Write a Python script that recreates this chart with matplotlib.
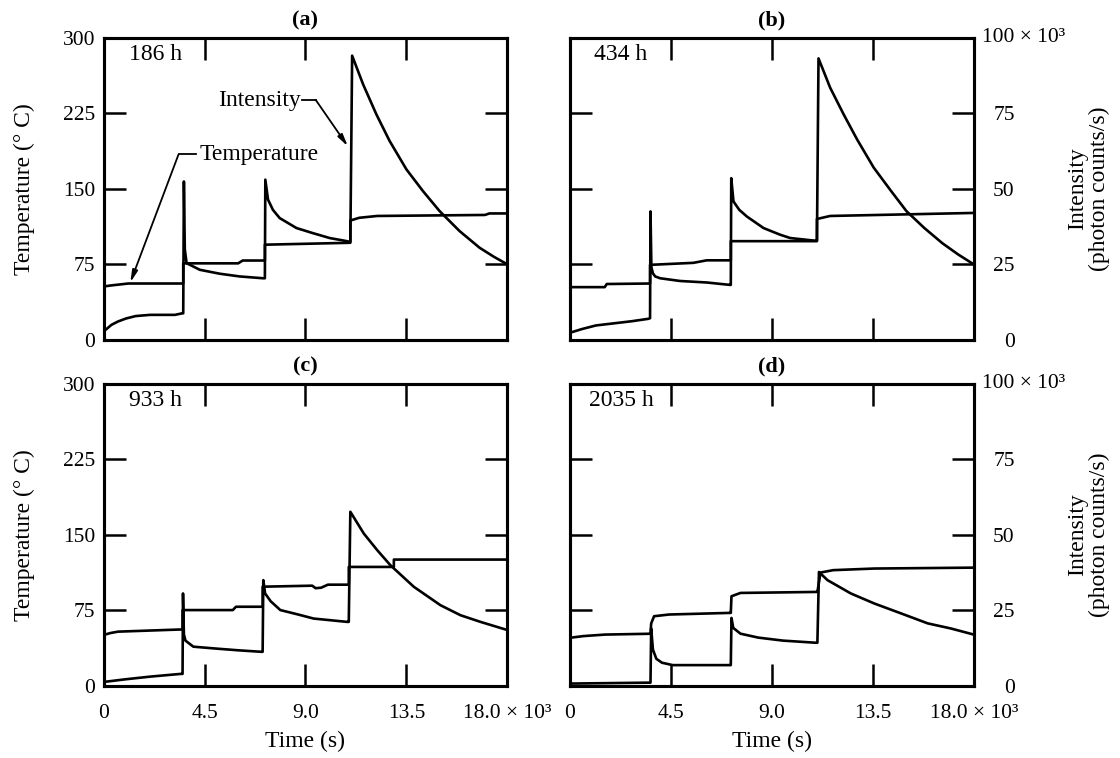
"""Temperature steps and emission intensity vs time for four aging times."""
import matplotlib
matplotlib.use("Agg")
import matplotlib.pyplot as plt

plt.rcParams["font.family"] = ["Liberation Serif", "DejaVu Serif"]

TIME_TICKS = [0, 4.5, 9.0, 13.5, 18.0]
TIME_LABELS = ["0", "4.5", "9.0", "13.5", "18.0 × 10³"]
TEMP_TICKS = [0, 75, 150, 225, 300]
TEMP_LABELS = ["0", "75", "150", "225", "300"]
INT_TICKS = [0, 25, 50, 75, 100]
INT_LABELS = ["0", "25", "50", "75", ""]
PANELS = ["(a)", "(b)", "(c)", "(d)"]
AGES = ["186 h", "434 h", "933 h", "2035 h"]

# time in 10^3 s, temperature in deg C, intensity in 10^3 photon counts/s
a_temp_t = [0, 0.3, 1.1, 3.55, 3.55, 6.0, 6.2, 7.19, 7.19, 11.0, 11.0, 11.4, 12.2, 17.0, 17.2, 18.0]
a_temp = [53, 54, 56, 56, 76, 76, 78.8, 78.8, 94.5, 96.4, 118.5, 121.2, 123, 124, 125.5, 125.5]
a_int_t = [0, 0.08, 0.35, 0.64, 1.0, 1.43, 2.07, 3.18, 3.5, 3.55, 3.58, 3.62, 3.7, 4.29,
           5.18, 6.07, 7.11, 7.19, 7.21, 7.33, 7.55, 7.85, 8.6, 9.34, 10.08, 10.97, 11.0,
           11.08, 11.57, 12.16, 12.75, 13.5, 14.24, 14.98, 15.87, 16.76, 17.4, 18.0]
a_int = [2.8, 3.3, 5.0, 6.1, 7.1, 7.9, 8.3, 8.3, 8.8, 8.8, 52.4, 30, 25.4, 23.2,
         21.9, 21.0, 20.4, 20.4, 53, 46.4, 43, 40.3, 37, 35.3, 33.7, 32.5, 32.5,
         94, 84.5, 74.6, 65.8, 56.4, 49.2, 42.6, 36, 30.5, 27.5, 25]

b_temp_t = [0, 1.55, 1.64, 3.57, 3.57, 5.5, 6.1, 7.17, 7.17, 11.01, 11.01, 11.6, 18.0]
b_temp = [52.4, 52.4, 55.5, 56, 74.5, 76.5, 79, 79, 98, 98, 120, 123, 126]
b_int_t = [0, 0.05, 0.53, 1.16, 1.96, 2.76, 3.5, 3.57, 3.59, 3.63, 3.7, 3.8, 4.02,
           4.91, 6.1, 7.14, 7.17, 7.19, 7.29, 7.55, 7.89, 8.63, 9.37, 9.82, 10.95,
           11.01, 11.08, 11.6, 12.2, 12.8, 13.54, 14.3, 15.0, 15.8, 16.6, 17.3, 18.0]
b_int = [2.3, 2.5, 3.6, 4.8, 5.5, 6.2, 7.0, 7.2, 42.5, 24, 22, 21, 20.4,
         19.5, 19.0, 18.2, 18.2, 53.5, 45.8, 43, 40.8, 37, 34.8, 33.7, 32.8,
         32.8, 93.1, 83.4, 74.6, 66.3, 57.0, 49.4, 42.6, 37, 32, 28.3, 25]

c_temp_t = [0, 0.3, 0.64, 3.36, 3.52, 3.52, 5.76, 5.9, 7.09, 7.09, 9.3, 9.45, 9.7, 10.0,
            10.93, 10.93, 12.94, 12.94, 18.0]
c_temp = [50.6, 52.5, 53.9, 56, 56, 75.3, 75.3, 78.6, 78.6, 98.5, 99.5, 97, 97.5, 100.5,
          100.5, 118.1, 118.1, 125.4, 125.4]
c_int_t = [0, 0.08, 0.96, 2.08, 3.44, 3.52, 3.54, 3.58, 3.65, 4.0, 4.96, 6.0, 7.04,
           7.09, 7.12, 7.2, 7.45, 7.88, 8.64, 9.36, 10.85, 10.93, 11.0, 11.6, 12.2,
           12.79, 13.83, 15.02, 15.91, 16.8, 18.0]
c_int = [1.2, 1.4, 2.2, 3.1, 4.0, 4.0, 30.6, 17, 15, 13.0, 12.4, 11.8, 11.3,
         11.3, 35.0, 30.6, 28, 25.1, 23.7, 22.3, 21.2, 21.2, 57.6, 50.4, 44.9,
         39.9, 32.8, 26.7, 23.4, 21.2, 18.5]

d_temp_t = [0, 0.6, 1.56, 3.54, 3.59, 3.62, 3.75, 4.42, 7.12, 7.17, 7.2, 7.6, 11.01,
            11.03, 11.17, 11.73, 13.56, 18.0]
d_temp = [47.8, 49.5, 51, 51.8, 51.8, 62, 69.2, 70.9, 72.5, 72.5, 89, 92.3, 93.3,
          93.3, 112.5, 114.9, 116.5, 117.4]
d_int_t = [0, 0.05, 3.46, 3.59, 3.62, 3.70, 3.85, 4.1, 4.58, 7.12, 7.17, 7.2, 7.28,
           7.6, 8.39, 9.5, 10.96, 11.03, 11.1, 11.48, 12.52, 13.56, 14.76, 15.95,
           16.99, 18.0]
d_int = [0.6, 0.8, 1.1, 1.1, 19.0, 12.0, 9.0, 7.7, 6.9, 6.9, 6.9, 22.5, 19.2,
         17.3, 16.0, 15.0, 14.3, 14.3, 37.7, 35, 30.6, 27.3, 24, 20.7,
         19.0, 17.0]

LW = 1.9
TICK_LEN = 16
TICK_W = 1.8
FS_TICK = 15.5
FS_LABEL = 17


def draw_panel(rect, temp_t, temp, int_t, inten, panel, age, age_x, col, row):
    ax = fig.add_axes(rect)
    ax.plot(temp_t, temp, color="black", lw=LW, solid_joinstyle="round")
    ax.set_xlim(0, 18)
    ax.set_ylim(0, 300)
    ax.set_xticks(TIME_TICKS)
    ax.set_yticks(TEMP_TICKS)
    ax.tick_params(direction="in", length=TICK_LEN, width=TICK_W, top=True, right=False,
                   labelsize=FS_TICK, pad=6)
    ax.tick_params(axis="x", pad=13)
    for s in ax.spines.values():
        s.set_linewidth(2.2)

    ax2 = ax.twinx()
    ax2.plot(int_t, inten, color="black", lw=LW, solid_joinstyle="round")
    ax2.set_ylim(0, 100)
    ax2.set_yticks(INT_TICKS)
    ax2.tick_params(direction="in", length=TICK_LEN, width=TICK_W, labelsize=FS_TICK)
    for s in ax2.spines.values():
        s.set_linewidth(2.2)

    if row == 1:
        ax.set_xticklabels(TIME_LABELS)
        ax.set_xlabel("Time (s)", fontsize=FS_LABEL)
        ax.xaxis.set_label_coords(0.5, -0.185)
        ax.xaxis.label.set_va("center")
    else:
        ax.set_xticklabels([])

    if col == 0:
        ax.set_yticklabels(TEMP_LABELS)
        ax.set_ylabel("Temperature (° C)", fontsize=FS_LABEL)
        ax.yaxis.set_label_coords(-0.195, 0.5)
        ax.yaxis.label.set_va("center")
        ax2.set_yticklabels([])
    else:
        ax.set_yticklabels([])
        ax2.set_yticklabels(INT_LABELS)
        for lab in ax2.get_yticklabels():
            lab.set_horizontalalignment("right")
        ax2.tick_params(pad=29.5)
        ax2.text(1.021, 1.0, "100 × 10³", transform=ax2.transAxes, ha="left",
                 va="center", fontsize=FS_TICK)
        ax2.text(1.285, 0.5, "Intensity\n(photon counts/s)", transform=ax2.transAxes,
                 rotation=90, ha="center", va="center", fontsize=FS_LABEL,
                 multialignment="center", linespacing=1.05)

    ax.text(0.5, 1.055, panel, transform=ax.transAxes, ha="center", va="center",
            fontsize=16, fontweight="bold")
    ax.text(age_x, 0.944, age, transform=ax.transAxes, ha="left", va="center",
            fontsize=FS_LABEL)
    return ax


fig = plt.figure(figsize=(11.2, 7.58), dpi=100)

W, H = 0.3605, 0.3990
rects = [
    [0.0925, 0.5515, W, H],
    [0.5089, 0.5515, W, H],
    [0.0925, 0.0950, W, H],
    [0.5089, 0.0950, W, H],
]
age_xs = [0.062, 0.06, 0.062, 0.046]
series = [
    (a_temp_t, a_temp, a_int_t, a_int),
    (b_temp_t, b_temp, b_int_t, b_int),
    (c_temp_t, c_temp, c_int_t, c_int),
    (d_temp_t, d_temp, d_int_t, d_int),
]

axes = []
for i, (rect, s) in enumerate(zip(rects, series)):
    axes.append(draw_panel(rect, *s, PANELS[i], AGES[i], age_xs[i], i % 2, i // 2))

# leader lines in panel (a)
ax = axes[0]
head = "-|>,head_length=0.7,head_width=0.16"
ax.text(8.8, 238, "Intensity", ha="right", va="center", fontsize=FS_LABEL)
ax.plot([8.85, 9.46], [238, 238], color="black", lw=1.3)
ax.annotate("", xy=(10.89, 192), xytext=(9.46, 238),
            arrowprops=dict(arrowstyle=head, color="black", lw=1.3, shrinkA=0, shrinkB=0))
ax.text(4.3, 184, "Temperature", ha="left", va="center", fontsize=FS_LABEL)
ax.plot([4.12, 3.34], [184, 184], color="black", lw=1.3)
ax.annotate("", xy=(1.19, 57), xytext=(3.34, 184),
            arrowprops=dict(arrowstyle=head, color="black", lw=1.3, shrinkA=0, shrinkB=0))

fig.savefig("out.png", dpi=100)
